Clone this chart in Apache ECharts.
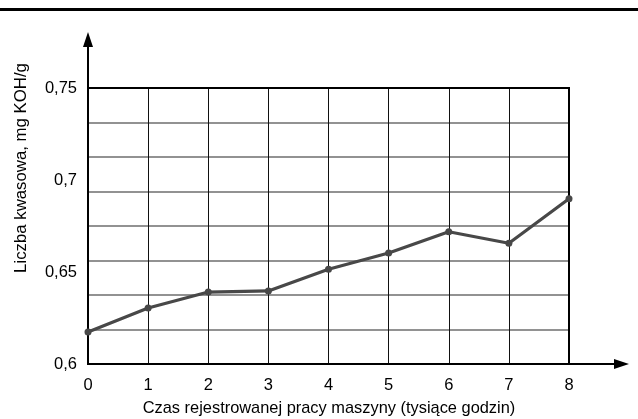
<!DOCTYPE html>
<html>
<head>
<meta charset="utf-8">
<script src="https://cdn.jsdelivr.net/npm/echarts@6/dist/echarts.min.js"></script>
<style>
html,body{margin:0;padding:0;background:#fff;}
#c{width:638px;height:419px;}
</style>
</head>
<body>
<div id="c"></div>
<script>
// Data
var hours = [0, 1, 2, 3, 4, 5, 6, 7, 8];
var acidNumber = [0.6174, 0.6304, 0.6391, 0.6397, 0.6515, 0.6603, 0.6719, 0.6656, 0.6898];
var yTickLabels = [0.6, 0.65, 0.7, 0.75];
var xTitle = 'Czas rejestrowanej pracy maszyny (tysiące godzin)';
var yTitle = 'Liczba kwasowa, mg KOH/g';

var FONT = '"Liberation Sans", Arial, sans-serif';
var chart = echarts.init(document.getElementById('c'), null, {renderer: 'canvas'});

var pts = hours.map(function (h, i) { return [h, acidNumber[i]]; });

var option = {
  animation: false,
  backgroundColor: '#fff',
  grid: {left: 88, right: 69, top: 88, bottom: 55, show: true, borderColor: '#000', borderWidth: 2, backgroundColor: 'transparent', z: 5},
  xAxis: {
    type: 'value', min: 0, max: 8, interval: 1,
    axisLine: {show: true, lineStyle: {color: '#000', width: 2}},
    axisTick: {show: false},
    axisLabel: {color: '#000', fontSize: 16.5, fontFamily: FONT, margin: 13},
    splitLine: {show: true, lineStyle: {color: '#111', width: 1}}
  },
  yAxis: [{
    type: 'value', min: 0.6, max: 0.75, interval: 0.01875,
    axisLine: {show: true, lineStyle: {color: '#000', width: 2}},
    axisTick: {show: false},
    axisLabel: {show: false},
    splitLine: {show: true, lineStyle: {color: '#6e6e6e', width: 1.6}}
  }, {
    type: 'value', min: 0.6, max: 0.75, interval: 0.05, position: 'left',
    axisLine: {show: false}, axisTick: {show: false},
    splitLine: {show: false},
    axisLabel: {color: '#000', fontSize: 16.5, fontFamily: FONT, margin: 11,
      formatter: function (v) {
        var r = Math.round(v * 100) / 100;
        for (var i = 0; i < yTickLabels.length; i++) {
          if (Math.abs(yTickLabels[i] - r) < 1e-6) return String(yTickLabels[i]).replace('.', ',');
        }
        return '';
      }}
  }],
  series: [{
    type: 'line', data: pts, yAxisIndex: 0,
    symbol: 'circle', symbolSize: 7,
    lineStyle: {color: '#484848', width: 3.2},
    itemStyle: {color: '#484848'},
    z: 10
  }]
};
chart.setOption(option);

var o = chart.convertToPixel({gridIndex: 0}, [0, 0.6]);
var e = chart.convertToPixel({gridIndex: 0}, [8, 0.75]);
var x0 = o[0], yb = o[1], yt = e[1], xr = e[0];

chart.setOption({
  graphic: [
    {type: 'rect', shape: {x: 0, y: 8, width: 638, height: 3}, style: {fill: '#000'}},
    {type: 'line', shape: {x1: x0, y1: yt, x2: x0, y2: 44}, style: {stroke: '#000', lineWidth: 2}},
    {type: 'polygon', shape: {points: [[x0, 32], [x0 - 5, 47], [x0 + 5, 47]]}, style: {fill: '#000'}},
    {type: 'line', shape: {x1: xr, y1: yb, x2: 618, y2: yb}, style: {stroke: '#000', lineWidth: 2}},
    {type: 'polygon', shape: {points: [[629, yb], [614, yb - 5], [614, yb + 5]]}, style: {fill: '#000'}},
    {type: 'text', x: 329, y: 408, style: {text: xTitle, font: '16.4px ' + FONT, fill: '#000', textAlign: 'center', textVerticalAlign: 'middle'}},
    {type: 'text', x: 21, y: 168, rotation: Math.PI / 2, style: {text: yTitle, font: '16.8px ' + FONT, fill: '#000', textAlign: 'center', textVerticalAlign: 'middle'}}
  ]
});
</script>
</body>
</html>
